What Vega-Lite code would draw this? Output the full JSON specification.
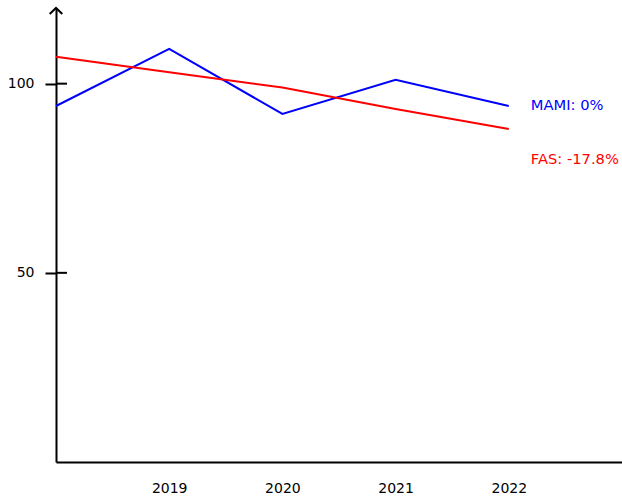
{
  "$schema": "https://vega.github.io/schema/vega-lite/v6.json",
  "width": 566,
  "height": 454,
  "autosize": {"type": "none"},
  "padding": {"left": 56, "top": 8, "right": 0, "bottom": 34},
  "config": {
    "view": {"stroke": null},
    "font": "DejaVu Sans",
    "axis": {"labelFont": "DejaVu Sans", "labelColor": "#000000", "title": null, "grid": false}
  },
  "datasets": {
    "series": [
      {"series": "MAMI", "year": 2018, "value": 94.1},
      {"series": "MAMI", "year": 2019, "value": 109.2},
      {"series": "MAMI", "year": 2020, "value": 92.0},
      {"series": "MAMI", "year": 2021, "value": 101.0},
      {"series": "MAMI", "year": 2022, "value": 94.1},
      {"series": "FAS", "year": 2018, "value": 107.1},
      {"series": "FAS", "year": 2019, "value": 103.0},
      {"series": "FAS", "year": 2020, "value": 99.0},
      {"series": "FAS", "year": 2021, "value": 93.3},
      {"series": "FAS", "year": 2022, "value": 88.0}
    ],
    "labels": [
      {"series": "MAMI", "year": 2022, "value": 94.1, "label": "MAMI: 0%"},
      {"series": "FAS", "year": 2022, "value": 88.0, "label": "FAS: -17.8%"}
    ],
    "yticks": [{"v": 50}, {"v": 100}]
  },
  "layer": [
    {
      "data": {"name": "series"},
      "mark": {"type": "line", "strokeWidth": 2},
      "encoding": {
        "x": {
          "field": "year", "type": "quantitative",
          "scale": {"domain": [2018, 2023], "nice": false, "zero": false},
          "axis": {
            "values": [2019, 2020, 2021, 2022], "format": "d",
            "ticks": false, "labelPadding": 19, "labelFontSize": 14,
            "domainColor": "#000000", "domainWidth": 2
          }
        },
        "y": {
          "field": "value", "type": "quantitative",
          "scale": {"domain": [0, 120], "nice": false},
          "axis": {
            "values": [50, 100], "tickSize": 11, "tickWidth": 2, "tickColor": "#000000",
            "labelPadding": 11, "labelFontSize": 14,
            "domainColor": "#000000", "domainWidth": 2
          }
        },
        "color": {
          "field": "series", "type": "nominal",
          "scale": {"domain": ["MAMI", "FAS"], "range": ["#0000ff", "#ff0000"]},
          "legend": null
        },
        "detail": {"field": "series"}
      }
    },
    {
      "data": {"name": "yticks"},
      "mark": {"type": "rule", "strokeWidth": 2, "color": "#000000"},
      "encoding": {
        "y": {"field": "v", "type": "quantitative"},
        "x": {"datum": 2018},
        "x2": {"datum": 2018.097}
      }
    },
    {
      "data": {"values": [{"t": 1}]},
      "mark": {"type": "point", "shape": "M-1,0.95L0,0L1,0.95", "size": 160, "filled": false, "stroke": "#000000", "strokeWidth": 2, "opacity": 1},
      "encoding": {
        "x": {"datum": 2018},
        "y": {"datum": 120}
      }
    },
    {
      "data": {"name": "labels"},
      "transform": [{"filter": "datum.series === 'MAMI'"}],
      "mark": {"type": "text", "align": "left", "baseline": "middle", "dx": 22, "fontSize": 14.7, "font": "DejaVu Sans"},
      "encoding": {
        "x": {"field": "year", "type": "quantitative"},
        "y": {"field": "value", "type": "quantitative"},
        "text": {"field": "label"},
        "color": {"field": "series", "type": "nominal", "legend": null}
      }
    },
    {
      "data": {"name": "labels"},
      "transform": [{"filter": "datum.series === 'FAS'"}],
      "mark": {"type": "text", "align": "left", "baseline": "middle", "dx": 22, "dy": 31, "fontSize": 14.7, "font": "DejaVu Sans"},
      "encoding": {
        "x": {"field": "year", "type": "quantitative"},
        "y": {"field": "value", "type": "quantitative"},
        "text": {"field": "label"},
        "color": {"field": "series", "type": "nominal", "legend": null}
      }
    }
  ]
}
